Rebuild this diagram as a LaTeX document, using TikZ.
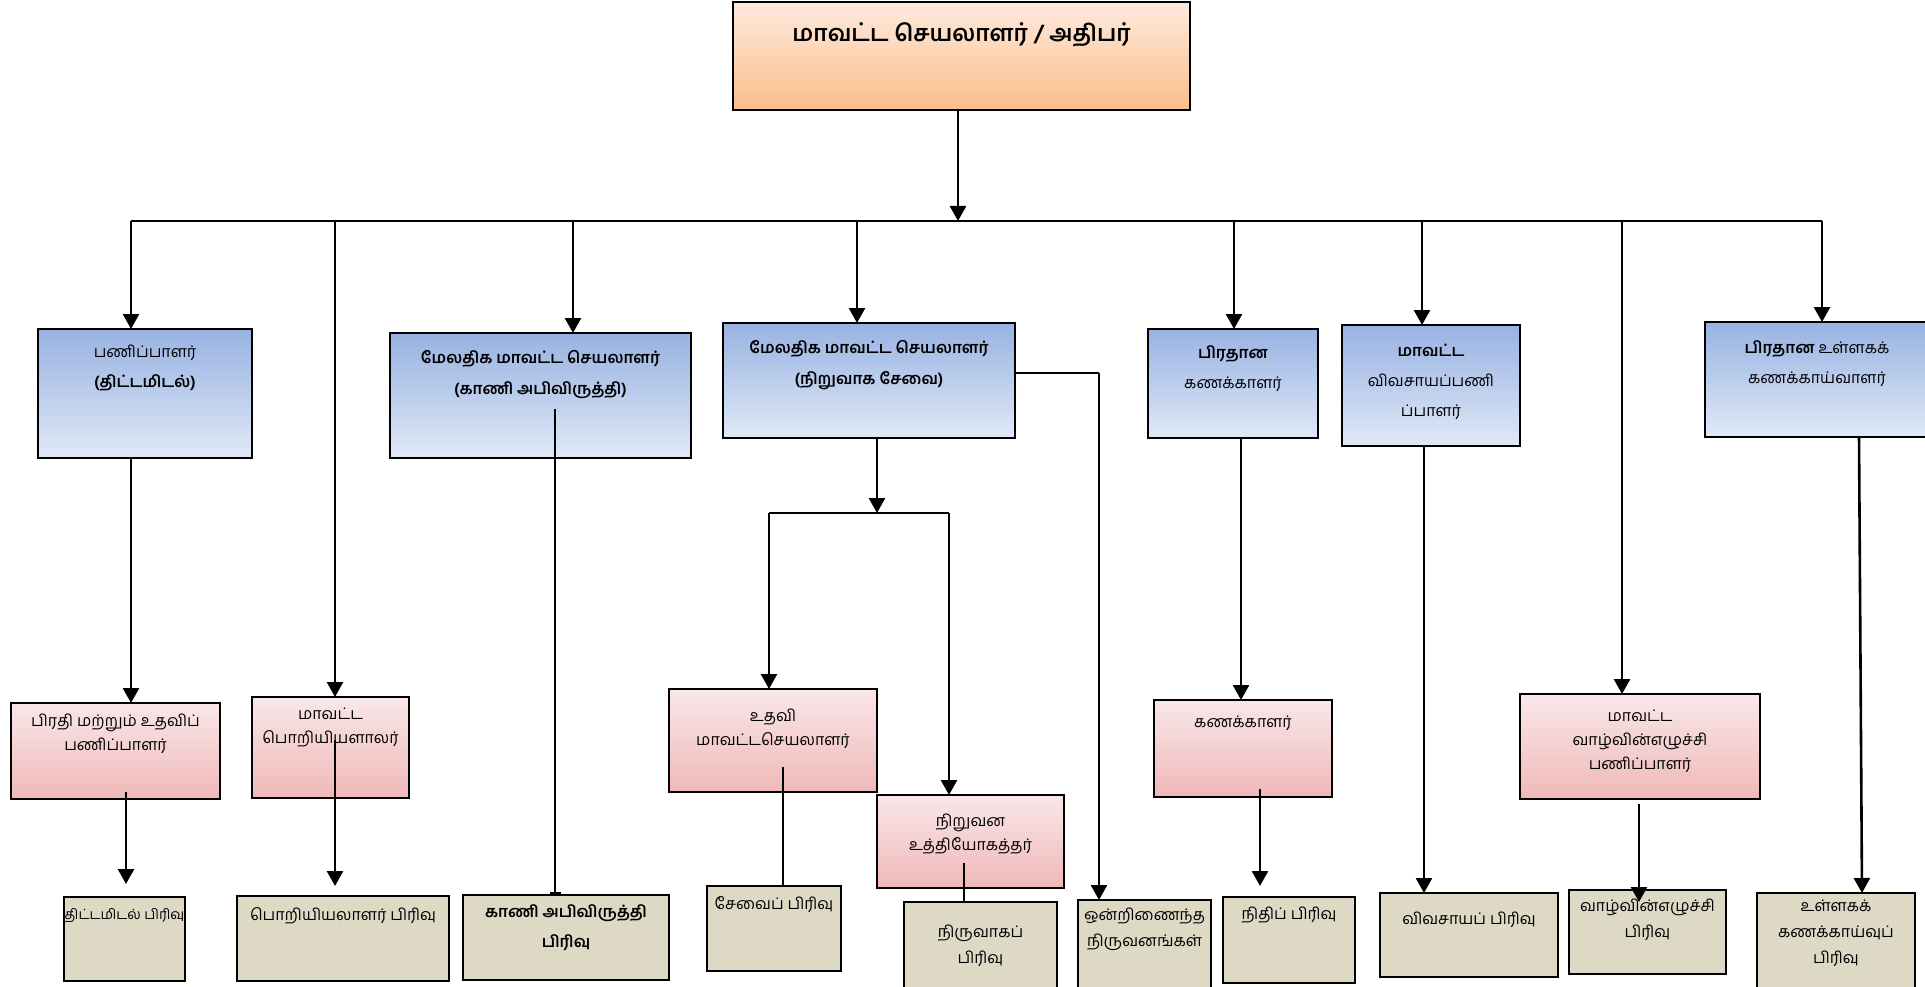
\documentclass[tikz,border=0pt]{standalone}
\usepackage{fontspec}
\newfontfamily\tamilfont[Script=Tamil]{Hind Madurai}
\usetikzlibrary{arrows.meta}

\definecolor{peachtop}{RGB}{254,234,222}
\definecolor{peachbot}{RGB}{251,190,138}
\definecolor{bluetop}{RGB}{152,178,226}
\definecolor{bluebot}{RGB}{224,233,247}
\definecolor{pinktop}{RGB}{249,231,233}
\definecolor{pinkbot}{RGB}{240,184,184}
\definecolor{tanfill}{RGB}{221,217,196}

\tikzset{
  box/.style={draw=black, line width=2pt, anchor=north west, inner sep=0pt, outer sep=0pt},
  sz/.style 2 args={minimum width=#1pt, minimum height=#2pt},
  topbox/.style={box, top color=peachtop, bottom color=peachbot},
  bluebox/.style={box, top color=bluetop, bottom color=bluebot},
  pinkbox/.style={box, top color=pinktop, bottom color=pinkbot},
  tanbox/.style={box, fill=tanfill},
  txt/.style={anchor=north, align=center, inner sep=0pt},
  toptxt/.style={txt, font=\tamilfont\bfseries\fontsize{23}{28}\selectfont},
  bluetxt/.style={txt, font=\tamilfont\fontsize{16}{30}\selectfont},
  bluebold/.style={txt, font=\tamilfont\bfseries\fontsize{16}{31}\selectfont},
  pinktxt/.style={txt, font=\tamilfont\fontsize{16}{24}\selectfont},
  tantxt/.style={txt, font=\tamilfont\fontsize{16}{26}\selectfont},
  tanbold/.style={txt, font=\tamilfont\bfseries\fontsize{16}{30}\selectfont},
  arr/.style={line width=2.6pt, -{Triangle[width=16pt,length=15pt]}},
  link/.style={line width=2.6pt},
  thinlink/.style={line width=1.3pt}
}

\begin{document}
\begin{tikzpicture}[x=1pt,y=-1pt]
\useasboundingbox (0,0) rectangle (1925,987);
\clip (0,0) rectangle (1925,987);

%top box
\node[topbox, sz={457}{108}] (dsec) at (733,2) {};
\node[toptxt] (dsec-t) at ([yshift=-20pt]dsec.north) {மாவட்ட செயலாளர் / அதிபர்};

%second row
\node[bluebox, sz={214}{129}] (plan) at (38,329) {};
\node[bluetxt] (plan-t) at ([yshift=-16pt]plan.north) {பணிப்பாளர்\\{\bfseries (திட்டமிடல்)}};
\node[bluebox, sz={301}{125}] (kaani) at (390,333) {};
\node[bluebold] (kaani-t) at ([yshift=-17pt]kaani.north) {மேலதிக மாவட்ட செயலாளர்\\(காணி அபிவிருத்தி)};
\node[bluebox, sz={292}{115}] (niruvaka) at (723,323) {};
\node[bluebold] (niruvaka-t) at ([yshift=-17pt]niruvaka.north) {மேலதிக மாவட்ட செயலாளர்\\(நிறுவாக சேவை)};
\node[bluebox, sz={170}{109}] (pkanakku) at (1148,329) {};
\node[bluetxt] (pkanakku-t) at ([yshift=-16pt]pkanakku.north) {{\bfseries பிரதான}\\கணக்காளர்};
\node[bluebox, sz={178}{121}] (vivasaya) at (1342,325) {};
\node[bluetxt] (vivasaya-t) at ([yshift=-19pt]vivasaya.north) {{\bfseries மாவட்ட}\\விவசாயப்பணி\\ப்பாளர்};
\node[bluebox, sz={224}{115}] (ullaka) at (1705,322) {};
\node[bluetxt] (ullaka-t) at ([yshift=-18pt]ullaka.north) {{\bfseries பிரதான} உள்ளகக்\\கணக்காய்வாளர்};

%third row
\node[pinkbox, sz={209}{96}] (pirathi) at (11,703) {};
\node[pinktxt] (pirathi-t) at ([yshift=-11pt]pirathi.north) {பிரதி மற்றும் உதவிப்\\பணிப்பாளர்};
\node[pinkbox, sz={157}{101}] (poriyi) at (252,697) {};
\node[pinktxt] (poriyi-t) at ([yshift=-11pt]poriyi.north) {மாவட்ட\\பொறியியளாலர்};
\node[pinkbox, sz={208}{103}] (udhavi) at (669,689) {};
\node[pinktxt] (udhavi-t) at ([yshift=-20pt]udhavi.north) {உதவி\\மாவட்டசெயலாளர்};
\node[pinkbox, sz={187}{93}] (niruvana) at (877,795) {};
\node[pinktxt] (niruvana-t) at ([yshift=-19pt]niruvana.north) {நிறுவன\\உத்தியோகத்தர்};
\node[pinkbox, sz={178}{97}] (kanakku) at (1154,700) {};
\node[pinktxt] (kanakku-t) at ([yshift=-16pt]kanakku.north) {கணக்காளர்};
\node[pinkbox, sz={240}{105}] (vaazhvu) at (1520,694) {};
\node[pinktxt] (vaazhvu-t) at ([yshift=-16pt]vaazhvu.north) {மாவட்ட\\வாழ்வின்எழுச்சி\\பணிப்பாளர்};

%bottom row
\node[tanbox, sz={121}{84}] (tpirivu) at (64,897) {};
\node[tantxt, font=\tamilfont\fontsize{14}{26}\selectfont] (tpirivu-t) at ([yshift=-11pt]tpirivu.north) {திட்டமிடல் பிரிவு};
\node[tanbox, sz={212}{85}] (ppirivu) at (237,896) {};
\node[tantxt] (ppirivu-t) at ([yshift=-11pt]ppirivu.north) {பொறியியலாளர் பிரிவு};
\node[tanbox, sz={206}{85}] (kpirivu) at (463,895) {};
\node[tanbold] (kpirivu-t) at ([yshift=-9pt]kpirivu.north) {காணி அபிவிருத்தி\\பிரிவு};
\node[tanbox, sz={134}{85}] (spirivu) at (707,886) {};
\node[tantxt] (spirivu-t) at ([yshift=-10pt]spirivu.north) {சேவைப் பிரிவு};
\node[tanbox, sz={153}{98}] (npirivu) at (904,902) {};
\node[tantxt] (npirivu-t) at ([yshift=-23pt]npirivu.north) {நிருவாகப்\\பிரிவு};
\node[tanbox, sz={133}{100}] (onri) at (1078,900) {};
\node[tantxt] (onri-t) at ([yshift=-8pt]onri.north) {ஒன்றிணைந்த\\நிருவனங்கள்};
\node[tanbox, sz={132}{86}] (nithi) at (1223,897) {};
\node[tantxt] (nithi-t) at ([yshift=-10pt]nithi.north) {நிதிப் பிரிவு};
\node[tanbox, sz={178}{84}] (vpirivu) at (1380,893) {};
\node[tantxt] (vpirivu-t) at ([yshift=-19pt]vpirivu.north) {விவசாயப் பிரிவு};
\node[tanbox, sz={157}{84}] (vzpirivu) at (1569,890) {};
\node[tantxt] (vzpirivu-t) at ([yshift=-9pt]vzpirivu.north) {வாழ்வின்எழுச்சி\\பிரிவு};
\node[tanbox, sz={158}{107}] (upirivu) at (1757,893) {};
\node[tantxt] (upirivu-t) at ([yshift=-7pt]upirivu.north) {உள்ளகக்\\கணக்காய்வுப்\\பிரிவு};

%bus
\coordinate (busL) at (131,221);
\coordinate (busR) at (1822,221);
\draw[link] (busL) -- (busR);
\draw[arr] (958,0 |- dsec.south) -- (958,0 |- busL);

%drops from the bus
\draw[arr] (busL) -- (131,0 |- plan.north);
\draw[arr] (335,221) -- (335,0 |- poriyi.north);
\draw[arr] (573,221) -- (573,0 |- kaani.north);
\draw[arr] (857,221) -- (857,0 |- niruvaka.north);
\draw[arr] (1234,221) -- (1234,0 |- pkanakku.north);
\draw[arr] (1422,221) -- (1422,0 |- vivasaya.north);
\draw[arr] (1622,221) -- (1622,0 |- vaazhvu.north);
\draw[arr] (busR) -- (1822,0 |- ullaka.north);

%second row down
\draw[arr] (131,0 |- plan.south) -- (131,0 |- pirathi.north);
\draw[link, -{Bar[width=11pt]}] (555,409) -- (555,0 |- kpirivu.north);
\coordinate (split) at (877,513);
\draw[arr] (877,0 |- niruvaka.south) -- (split);
\draw[thinlink] (769,513) -- (949,513);
\draw[arr] (769,513) -- (769,0 |- udhavi.north);
\draw[arr] (949,513) -- (949,0 |- niruvana.north);
\draw[thinlink] (niruvaka.east |- 0,373) -- (1099,373);
\draw[arr] (1099,373) -- (1099,0 |- onri.north);
\draw[arr] (1241,0 |- pkanakku.south) -- (1241,0 |- kanakku.north);
\draw[arr] (1424,0 |- vivasaya.south) -- (1424,0 |- vpirivu.north);
\draw[arr] (1859,0 |- ullaka.south) -- (1862,0 |- upirivu.north);

%third row down
\draw[arr] (126,792) -- (126,884);
\draw[arr] (335,740) -- (335,886);
\draw[link] (783,767) -- (783,0 |- spirivu.north);
\draw[link] (964,863) -- (964,0 |- npirivu.north);
\draw[arr] (1260,789) -- (1260,886);
\draw[arr] (1639,804) -- (1639,902);
\end{tikzpicture}
\end{document}
